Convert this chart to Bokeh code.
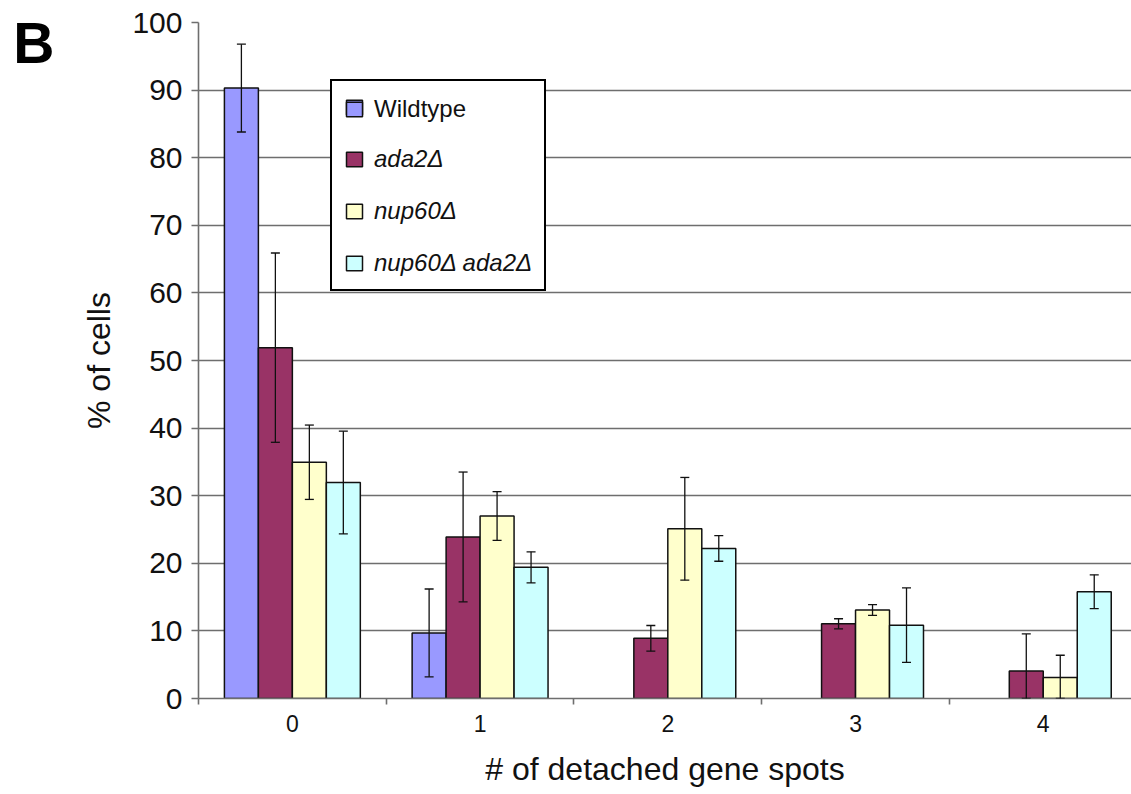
import numpy as np
from bokeh.plotting import figure
from bokeh.models import (ColumnDataSource, Range1d, FixedTicker, Legend, LegendItem,
                          Whisker, TeeHead, LinearAxis)
from bokeh.embed import file_html
from bokeh.resources import INLINE

# ---------------- data ----------------
categories = ["0", "1", "2", "3", "4"]
series_names = ["Wildtype", "ada2\u0394", "nup60\u0394", "nup60\u0394 ada2\u0394"]

wildtype = [90.3, 9.7, 0, 0, 0]
wildtype_err = [6.5, 6.5, 0, 0, 0]
ada2 = [51.9, 23.9, 8.9, 11.05, 4.05]
ada2_err = [14.0, 9.6, 1.9, 0.75, 5.5]
nup60 = [34.95, 27.0, 25.1, 13.1, 3.1]
nup60_err = [5.5, 3.6, 7.6, 0.8, 3.3]
nup60_ada2 = [31.95, 19.4, 22.2, 10.85, 15.8]
nup60_ada2_err = [7.6, 2.3, 1.9, 5.5, 2.5]

y_ticks = list(range(0, 101, 10))
panel_letter = "B"
colors = ["#9999FF", "#993366", "#FFFFCC", "#CCFFFF"]

FONT = "Liberation Sans"
GRID = "#6e6e6e"
INK = "#111111"

p = figure(width=1131, height=794, output_backend="svg", toolbar_location=None,
           x_range=Range1d(-0.5, 4.47), y_range=Range1d(0, 100),
           min_border_left=198, min_border_right=0, min_border_top=22,
           min_border_bottom=96)
p.outline_line_color = None
p.background_fill_color = "white"
p.border_fill_color = "white"

bar_w = 0.181
offsets = [-1.5, -0.5, 0.5, 1.5]
all_series = [(wildtype, wildtype_err), (ada2, ada2_err), (nup60, nup60_err),
              (nup60_ada2, nup60_ada2_err)]
renderers = []
for i, (vals, errs) in enumerate(all_series):
    idx = [k for k in range(len(categories)) if vals[k] > 0]
    x = [k + offsets[i] * bar_w for k in idx]
    top = np.array([vals[k] for k in idx], dtype=float)
    err = np.array([errs[k] for k in idx], dtype=float)
    src = ColumnDataSource(dict(x=x, top=top, lower=np.maximum(0, top - err),
                                upper=top + err))
    r = p.vbar(x="x", top="top", bottom=0, width=bar_w, source=src,
               fill_color=colors[i], line_color=INK, line_width=1.5)
    renderers.append(r)
    w = Whisker(base="x", upper="upper", lower="lower", source=src,
                line_color=INK, line_width=1.3,
                upper_head=TeeHead(size=9, line_color=INK, line_width=1.3),
                lower_head=TeeHead(size=9, line_color=INK, line_width=1.3))
    w.level = "overlay"
    p.add_layout(w)

# grid
p.xgrid.visible = False
p.ygrid.ticker = FixedTicker(ticks=y_ticks)
p.ygrid.grid_line_color = GRID
p.ygrid.grid_line_width = 1.6

# y axis
p.yaxis.ticker = FixedTicker(ticks=y_ticks)
p.yaxis.major_tick_in = 0
p.yaxis.major_tick_out = 7
p.yaxis.minor_tick_line_color = None
p.yaxis.axis_line_color = GRID
p.yaxis.axis_line_width = 1.6
p.yaxis.major_tick_line_color = GRID
p.yaxis.major_tick_line_width = 1.6
p.yaxis.major_label_text_font = FONT
p.yaxis.major_label_text_font_size = "30px"
p.yaxis.major_label_text_color = INK
p.yaxis.major_label_standoff = 9
p.yaxis.axis_label = "% of cells"
p.yaxis.axis_label_text_font = FONT
p.yaxis.axis_label_text_font_size = "32px"
p.yaxis.axis_label_text_font_style = "normal"
p.yaxis.axis_label_text_color = INK
p.yaxis.axis_label_standoff = 12

# panel letter, drawn as the only label of an otherwise invisible outer left axis
letter_axis = LinearAxis(ticker=FixedTicker(ticks=[97]),
                         major_label_overrides={97: panel_letter},
                         axis_line_color=None, major_tick_line_color=None,
                         minor_tick_line_color=None,
                         major_label_text_font=FONT,
                         major_label_text_font_size="57px",
                         major_label_text_font_style="bold",
                         major_label_text_color="black",
                         major_label_standoff=18)
p.add_layout(letter_axis, "left")

# x axis
p.xaxis.ticker = FixedTicker(ticks=list(range(len(categories))),
                             minor_ticks=[k - 0.5 for k in range(len(categories) + 1)])
p.xaxis.major_label_overrides = {k: c for k, c in enumerate(categories)}
p.xaxis.major_tick_in = 0
p.xaxis.major_tick_out = 0
p.xaxis.minor_tick_in = 0
p.xaxis.minor_tick_out = 6
p.xaxis.minor_tick_line_color = GRID
p.xaxis.minor_tick_line_width = 1.6
p.xaxis.axis_line_color = GRID
p.xaxis.axis_line_width = 1.6
p.xaxis.major_label_text_font = FONT
p.xaxis.major_label_text_font_size = "23px"
p.xaxis.major_label_text_color = INK
p.xaxis.major_label_standoff = 10
p.xaxis.axis_label = "# of detached gene spots"
p.xaxis.axis_label_text_font = FONT
p.xaxis.axis_label_text_font_size = "32px"
p.xaxis.axis_label_text_font_style = "normal"
p.xaxis.axis_label_text_color = INK
p.xaxis.axis_label_standoff = 16

# legend: boxed legend (italic labels) + overlay for the upright "Wildtype"
common = dict(label_text_font=FONT, label_text_font_size="24px", label_text_color=INK,
              glyph_width=20, glyph_height=18, label_height=28, label_standoff=10,
              spacing=24, padding=12, margin=0)
leg_box = Legend(items=[LegendItem(label=" ", renderers=[renderers[0]])] +
                 [LegendItem(label=series_names[i], renderers=[renderers[i]]) for i in range(1, 4)],
                 location=(132, 407), label_text_font_style="italic",
                 border_line_color="black", border_line_width=2, border_line_alpha=1.0,
                 background_fill_color="white", background_fill_alpha=1.0, **common)
leg_wt = Legend(items=[LegendItem(label=series_names[0], renderers=[renderers[0]])],
                location=(146, 575), label_text_font_style="normal",
                border_line_color=None, background_fill_alpha=0.0, **common)
p.add_layout(leg_box)
p.add_layout(leg_wt)

open("out.html", "w").write(file_html(p, INLINE))
